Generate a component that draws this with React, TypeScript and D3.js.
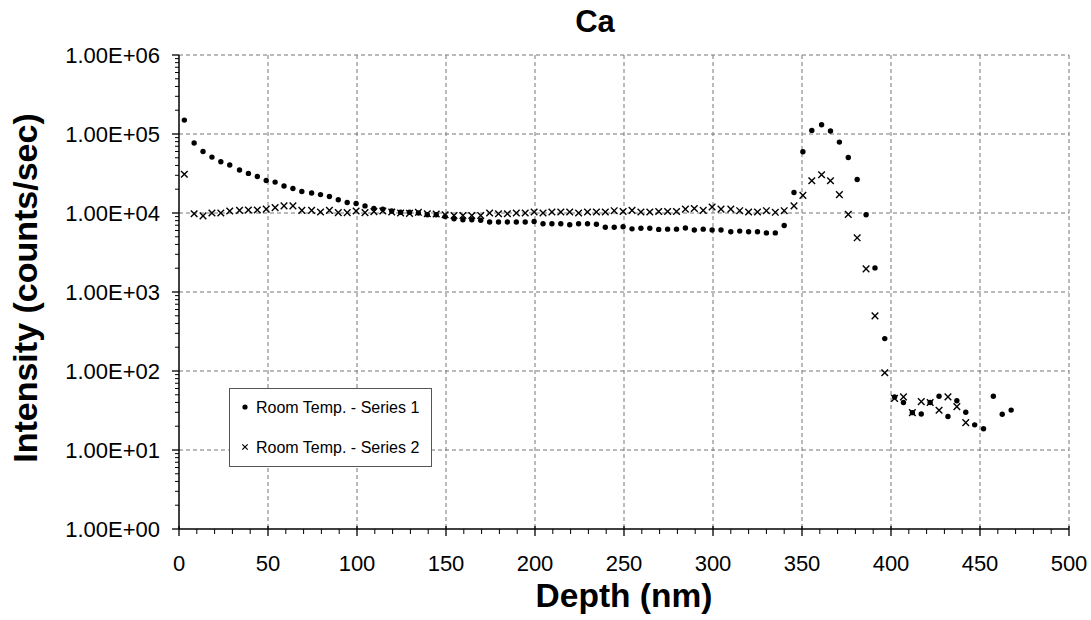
import React from "react";
import * as d3 from "d3";

const title = "Ca";
const xLabel = "Depth (nm)";
const yLabel = "Intensity (counts/sec)";
const legendLabels = ["Room Temp. - Series 1", "Room Temp. - Series 2"];

const xTicks = [0, 50, 100, 150, 200, 250, 300, 350, 400, 450, 500];
const yTicks = [1, 10, 100, 1000, 10000, 100000, 1000000];

const depth = [
  3, 8.5, 13.5, 18.5, 23.5, 28.5, 34, 39, 44, 49,
  54, 59, 64, 69, 74.5, 79.5, 84.5, 89.5, 94.5, 99.5,
  104.5, 109.5, 114.5, 119.5, 124.5, 129.5, 134.5, 139.5, 144.5, 149.5,
  154.5, 159.5, 164.5, 169.5, 174.5, 179.5, 184.5, 189.5, 194.5, 199.5,
  204.5, 209.5, 214.5, 219.5, 224.5, 229.5, 234.5, 239.5, 244.5, 249.5,
  254.5, 259.5, 264.5, 269.5, 274.5, 279.5, 284.5, 289.5, 294.5, 299.5,
  304.5, 310, 315, 320, 325, 330, 335, 340, 345.5, 350.5,
  355.5, 361, 366, 371, 376, 381, 386, 391, 396.5, 402,
  407, 412, 417, 422, 427, 432, 437, 442, 447, 452,
  457.5, 462.5, 467.5,
];

const series1 = [
  150000, 77000, 60000, 51000, 44500, 40500, 35000, 31700, 29000, 25800,
  24600, 22000, 20400, 18700, 17900, 17100, 16200, 14700, 13600, 13200,
  12300, 11400, 11200, 10600, 10200, 10200, 10000, 9500, 9500, 9000,
  8450, 8200, 8200, 8100, 7700, 7700, 7700, 7700, 7700, 7800,
  7300, 7300, 7300, 7100, 7300, 7300, 7200, 6600, 6600, 6700,
  6300, 6400, 6400, 6200, 6250, 6250, 6450, 6100, 6250, 6100,
  6100, 5800, 5900, 5800, 5800, 5600, 5600, 6950, 18200, 59600,
  111000, 131000, 109000, 79000, 50500, 26600, 9500, 2020, 257, 47,
  40, 29.7, 28.6, 40, 48, 26.5, 42, 30, 20.8, 18.6,
  48, 28.4, 32,
];

const series2 = [
  31000, 9800, 9200, 10000, 10000, 10600, 10800, 10900, 10900, 11200,
  11700, 12300, 12300, 10800, 10800, 10300, 10800, 10100, 10100, 10600,
  10100, 10400, 10600, 10300, 10000, 9900, 10200, 9800, 9700, 9500,
  9300, 9300, 9300, 9300, 10000, 9800, 9800, 10000, 10000, 10300,
  10000, 10300, 10300, 10300, 10000, 10300, 10300, 10300, 10700, 10450,
  10800, 10300, 10300, 10450, 10450, 10450, 11200, 11400, 10800, 11900,
  11200, 11200, 10700, 10300, 10300, 10700, 10200, 10700, 12300, 16700,
  25600, 30500, 25600, 17100, 9600, 4850, 1960, 499, 95, 45,
  47, 29.7, 41, 40, 31.9, 47, 35.4, 22.2,
];

const W = 1091;
const H = 620;
const left = 179;
const right = 1069;
const top = 55;
const bottom = 529;
const FONT = "'Liberation Sans', Arial, sans-serif";

export default function App() {
  const x = d3.scaleLinear().domain([0, 500]).range([left, right]);
  const y = d3.scaleLog().domain([1, 1e6]).range([bottom, top]);

  const xMinor = d3.range(0, 501, 10).filter((v) => v % 50 !== 0);
  const yMinor: number[] = [];
  for (let e = 0; e < 6; e++) {
    for (let k = 2; k <= 9; k++) yMinor.push(k * Math.pow(10, e));
  }
  const fmt = (v: number) => {
    const e = Math.round(Math.log10(v));
    return "1.00E+" + (e < 10 ? "0" + e : String(e));
  };

  const pts1 = series1.map((v, i) => [x(depth[i]), y(v)]);
  const pts2 = series2.map((v, i) => [x(depth[i]), y(v)]);

  const grid = "#777";
  const s = 3.3;

  return (
    <svg width={W} height={H} style={{ display: "block", position: "absolute", left: 0, top: 0, background: "#fff" }}>
      <rect x={0} y={0} width={W} height={H} fill="#fff" />
      {/* grid */}
      {xTicks.filter((v) => v > 0).map((v) => (
        <line key={"gx" + v} x1={x(v)} x2={x(v)} y1={top} y2={bottom} stroke={grid} strokeWidth={1} strokeDasharray="4,3" />
      ))}
      {yTicks.filter((v) => v > 1).map((v) => (
        <line key={"gy" + v} x1={left} x2={right} y1={y(v)} y2={y(v)} stroke={grid} strokeWidth={1} strokeDasharray="4,3" />
      ))}
      {/* axes */}
      <line x1={left} x2={left} y1={top} y2={bottom} stroke="#000" strokeWidth={1.5} />
      <line x1={left} x2={right} y1={bottom} y2={bottom} stroke="#000" strokeWidth={1.5} />
      {yTicks.map((v) => (
        <line key={"ty" + v} x1={left - 7} x2={left} y1={y(v)} y2={y(v)} stroke="#000" strokeWidth={1.3} />
      ))}
      {yMinor.map((v) => (
        <line key={"tym" + v} x1={left - 4} x2={left} y1={y(v)} y2={y(v)} stroke="#000" strokeWidth={1} />
      ))}
      {xTicks.map((v) => (
        <line key={"tx" + v} x1={x(v)} x2={x(v)} y1={bottom - 3} y2={bottom + 7} stroke="#000" strokeWidth={1.3} />
      ))}
      {xMinor.map((v) => (
        <line key={"txm" + v} x1={x(v)} x2={x(v)} y1={bottom} y2={bottom + 5} stroke="#000" strokeWidth={1} />
      ))}
      {/* tick labels */}
      {yTicks.map((v) => (
        <text key={"ly" + v} x={160} y={y(v)} dy="0.36em" textAnchor="end" fontFamily={FONT} fontSize={22} fill="#000">
          {fmt(v)}
        </text>
      ))}
      {xTicks.map((v) => (
        <text key={"lx" + v} x={x(v)} y={571} textAnchor="middle" fontFamily={FONT} fontSize={22} fill="#000">
          {v}
        </text>
      ))}
      {/* data */}
      {pts1.map((p, i) => (
        <circle key={"p1" + i} cx={p[0]} cy={p[1]} r={2.7} fill="#000" />
      ))}
      {pts2.map((p, i) => (
        <path key={"p2" + i} d={`M${p[0] - s},${p[1] - s}L${p[0] + s},${p[1] + s}M${p[0] - s},${p[1] + s}L${p[0] + s},${p[1] - s}`} stroke="#000" strokeWidth={1.4} fill="none" />
      ))}
      {/* legend */}
      <rect x={229.5} y={388.5} width={202} height={78} fill="#fff" stroke="#555" strokeWidth={1} />
      <circle cx={245} cy={407} r={2.6} fill="#000" />
      <text x={256} y={413} fontFamily={FONT} fontSize={16} fill="#000">{legendLabels[0]}</text>
      <path d={`M242.3,444.3L247.7,449.7M242.3,449.7L247.7,444.3`} stroke="#000" strokeWidth={1.2} />
      <text x={256} y={453} fontFamily={FONT} fontSize={16} fill="#000">{legendLabels[1]}</text>
      {/* titles */}
      <text x={595} y={32} textAnchor="middle" fontFamily={FONT} fontSize={31} fontWeight="bold" fill="#000">{title}</text>
      <text x={624} y={607} textAnchor="middle" fontFamily={FONT} fontSize={33.5} fontWeight="bold" fill="#000">{xLabel}</text>
      <text transform={`translate(37,288) rotate(-90)`} textAnchor="middle" fontFamily={FONT} fontSize={34} fontWeight="bold" fill="#000">{yLabel}</text>
    </svg>
  );
}
